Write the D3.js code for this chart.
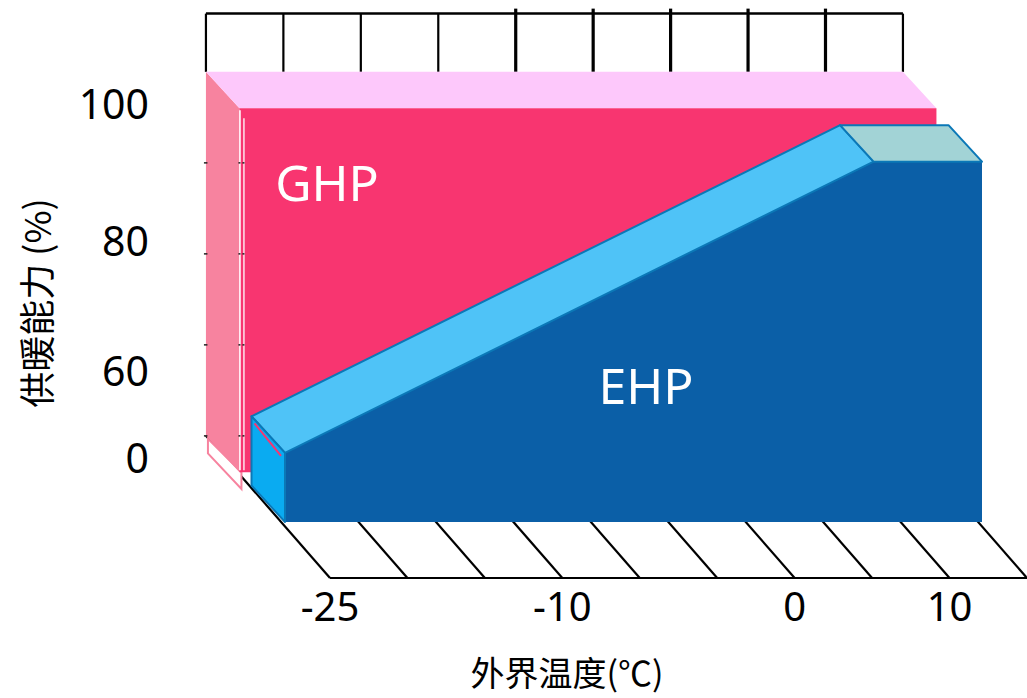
<!DOCTYPE html>
<html>
<head>
<meta charset="utf-8">
<script src="https://cdn.jsdelivr.net/npm/d3@7"></script>
<style>
  html, body { margin: 0; padding: 0; background: #ffffff; }
  svg { display: block; }
</style>
</head>
<body>
<svg id="chart" width="1027" height="698"></svg>
<script>
// ---- data ----
const gridSlots = d3.range(10);                 // temperature grid columns
const xTickLabels = ["-25", "-10", "0", "10"];
const xTickSlots = [0, 3, 6, 8];
const yTickLabels = ["0", "60", "80", "100"];
const yTickValues = [0, 60, 80, 100];
const wallTickValues = [0, 25, 50, 75];

const ghpSlots = [0, 9];
const ghpValues = [100, 100];
const ehpSlots = [0, 7.6, 9];
const ehpValues = [19, 99, 99];

// ---- projection ----
const svg = d3.select("#chart");
const BASE_Y = 522;
const DX = -33.5, DY = -36.5;          // screen offset per unit of depth
const EHP_DEPTH = [0, 1];
const GHP_DEPTH = [1.36, 2.36];
const WALL_DEPTH = 2.36;

const x = d3.scaleLinear().domain([0, 9]).range([285, 982]);
const h = d3.scaleLinear().domain([0, 100]).range([0, 364]);
const yLabel = d3.scaleLinear().domain(yTickValues).range([457, 370, 240, 103]);

const P = (s, v, d) => [x(s) + d * DX, BASE_Y - h(v) + d * DY];
const poly = pts => "M" + pts.map(p => p.join(",")).join("L") + "Z";

// ---- floor grid ----
const floor = svg.append("g").attr("stroke", "#000").attr("stroke-width", 2.2).attr("fill", "none");
const floorFront = s => [x(s) + 45, BASE_Y + 56];
floor.selectAll("line.diag").data(gridSlots).join("line")
  .attr("class", "diag")
  .attr("x1", s => P(s, 0, WALL_DEPTH)[0]).attr("y1", s => P(s, 0, WALL_DEPTH)[1])
  .attr("x2", s => floorFront(s)[0]).attr("y2", s => floorFront(s)[1]);
floor.append("line")
  .attr("x1", floorFront(0)[0]).attr("y1", floorFront(0)[1])
  .attr("x2", floorFront(9)[0]).attr("y2", floorFront(9)[1]);

// ---- back wall strip above the plot ----
const wall = svg.append("g").attr("stroke", "#000").attr("fill", "none");
const wTop = P(0, 116, WALL_DEPTH)[1], wBot = P(0, 100, WALL_DEPTH)[1];
wall.append("line").attr("stroke-width", 2.5)
  .attr("x1", P(0, 0, WALL_DEPTH)[0]).attr("x2", P(9, 0, WALL_DEPTH)[0])
  .attr("y1", wTop).attr("y2", wTop);
wall.selectAll("line.tk").data(gridSlots).join("line")
  .attr("class", "tk")
  .attr("stroke-width", s => (s >= 4 && s <= 8) ? 3.2 : 2.2)
  .attr("x1", s => P(s, 0, WALL_DEPTH)[0]).attr("x2", s => P(s, 0, WALL_DEPTH)[0])
  .attr("y1", s => (s >= 4 && s <= 8) ? wTop - 5 : wTop)
  .attr("y2", wBot);

// ---- GHP slab ----
const g0 = GHP_DEPTH[0], g1 = GHP_DEPTH[1];
const gA = ghpSlots[0], gB = ghpSlots[ghpSlots.length - 1];
const gv0 = ghpValues[0], gv1 = ghpValues[ghpValues.length - 1];

// bottom outline under the side face
svg.append("path")
  .attr("d", poly([[P(gA, 0, g1)[0] + 2, P(gA, 0, g1)[1] + 3], [P(gA, -4, g1)[0] + 2, P(gA, -4, g1)[1] + 3],
                   [P(gA, -4, g0)[0] + 2, P(gA, -4, g0)[1] + 2], [P(gA, 0, g0)[0] + 2, P(gA, 0, g0)[1]]]))
  .attr("fill", "#fff").attr("stroke", "#f7839f").attr("stroke-width", 2);

// side face
svg.append("path")
  .attr("d", poly([P(gA, gv0, g1), P(gA, gv0, g0), P(gA, 0, g0), P(gA, 0, g1)]))
  .attr("fill", "#f7839f");
// top face
svg.append("path")
  .attr("d", poly([P(gA, gv0, g1), P(gB, gv1, g1), P(gB, gv1, g0), P(gA, gv0, g0)]))
  .attr("fill", "#fdc8fb");
// front face
const ghpArea = d3.area()
  .x((d, i) => x(ghpSlots[i]) + g0 * DX)
  .y0(BASE_Y + g0 * DY)
  .y1((d, i) => BASE_Y - h(d) + g0 * DY);
svg.append("path").attr("d", ghpArea(ghpValues)).attr("fill", "#f83570");

// edge highlights along the left edge of the front face
const gx = x(gA) + g0 * DX;
const gTop = BASE_Y - h(gv0) + g0 * DY, gBot = BASE_Y + g0 * DY;
svg.append("line").attr("x1", gx + 0.5).attr("x2", gx + 0.5).attr("y1", gTop + 2).attr("y2", gBot - 2)
  .attr("stroke", "#fff").attr("stroke-width", 1.6);
svg.append("line").attr("x1", gx + 4.5).attr("x2", gx + 4.5).attr("y1", gTop + 10).attr("y2", gBot - 2)
  .attr("stroke", "#fff").attr("stroke-width", 1.3);

// small ticks along the side face edges
const wt = svg.append("g").attr("stroke", "#222").attr("stroke-width", 1.5);
wallTickValues.forEach(v => {
  const yy = P(0, v, WALL_DEPTH)[1];
  const xa = P(0, v, WALL_DEPTH)[0];
  wt.append("line").attr("x1", xa - 2).attr("x2", xa + 1.5).attr("y1", yy).attr("y2", yy);
  wt.append("line").attr("x1", gx - 1).attr("x2", gx + 1).attr("y1", yy).attr("y2", yy);
  wt.append("line").attr("x1", gx + 3).attr("x2", gx + 5).attr("y1", yy).attr("y2", yy);
});

// ---- EHP slab ----
const e0 = EHP_DEPTH[0], e1 = EHP_DEPTH[1];
const EDGE = "#0b78b7";

const ehpArea = d3.area()
  .x((d, i) => x(ehpSlots[i]))
  .y0(BASE_Y)
  .y1(d => BASE_Y - h(d));
svg.append("path").attr("d", ehpArea(ehpValues)).attr("fill", "#0b5fa7");

// top faces, one per segment
const segs = d3.range(ehpSlots.length - 1);
svg.selectAll("path.etop").data(segs).join("path")
  .attr("class", "etop")
  .attr("d", i => poly([
    P(ehpSlots[i], ehpValues[i], e0), P(ehpSlots[i + 1], ehpValues[i + 1], e0),
    P(ehpSlots[i + 1], ehpValues[i + 1], e1), P(ehpSlots[i], ehpValues[i], e1)]))
  .attr("fill", i => ehpValues[i] === ehpValues[i + 1] ? "#a2d3d6" : "#4fc3f7")
  .attr("stroke", EDGE).attr("stroke-width", 2).attr("stroke-linejoin", "round");

// side face
const eA = ehpSlots[0], ev0 = ehpValues[0];
svg.append("path")
  .attr("d", poly([P(eA, ev0, e1), P(eA, ev0, e0), P(eA, 0, e0), P(eA, 0, e1)]))
  .attr("fill", "#0aabf1").attr("stroke", EDGE).attr("stroke-width", 2).attr("stroke-linejoin", "round");
// pink glint along the side face top edge
const s1 = P(eA, ev0, e1), s2 = P(eA, ev0, e0);
svg.append("line")
  .attr("x1", s1[0] + 3).attr("y1", s1[1] + 7).attr("x2", s2[0] - 4).attr("y2", s2[1] + 3)
  .attr("stroke", "#f83570").attr("stroke-width", 2);

// ---- text ----
const numFont = "'Noto Sans', 'Open Sans', sans-serif";
const cjkFont = "'Noto Sans CJK SC', 'Noto Sans', sans-serif";

svg.selectAll("text.ytick").data(yTickValues).join("text")
  .attr("class", "ytick")
  .attr("x", 149).attr("y", v => yLabel(v))
  .attr("text-anchor", "end").attr("dominant-baseline", "central")
  .attr("font-family", numFont).attr("font-size", 41).attr("fill", "#000")
  .text((v, i) => yTickLabels[i]);

svg.selectAll("text.xtick").data(xTickSlots).join("text")
  .attr("class", "xtick")
  .attr("x", s => floorFront(s)[0]).attr("y", 605)
  .attr("text-anchor", "middle").attr("dominant-baseline", "central")
  .attr("font-family", numFont).attr("font-size", 40).attr("fill", "#000")
  .text((s, i) => xTickLabels[i]);

svg.append("text")
  .attr("x", 567).attr("y", 686)
  .attr("text-anchor", "middle")
  .attr("font-family", cjkFont).attr("font-size", 34).attr("fill", "#000")
  .text("外界温度(℃)");

svg.append("text")
  .attr("transform", "translate(35,303) rotate(-90)")
  .attr("text-anchor", "middle").attr("dominant-baseline", "central")
  .attr("font-family", cjkFont).attr("font-size", 36).attr("fill", "#000")
  .text("供暖能力 (%)");

svg.append("text")
  .attr("x", 327).attr("y", 182)
  .attr("text-anchor", "middle").attr("dominant-baseline", "central")
  .attr("font-family", numFont).attr("font-size", 50).attr("fill", "#fff")
  .text("GHP");

svg.append("text")
  .attr("x", 646).attr("y", 385)
  .attr("text-anchor", "middle").attr("dominant-baseline", "central")
  .attr("font-family", numFont).attr("font-size", 50).attr("fill", "#fff")
  .text("EHP");
</script>
</body>
</html>
